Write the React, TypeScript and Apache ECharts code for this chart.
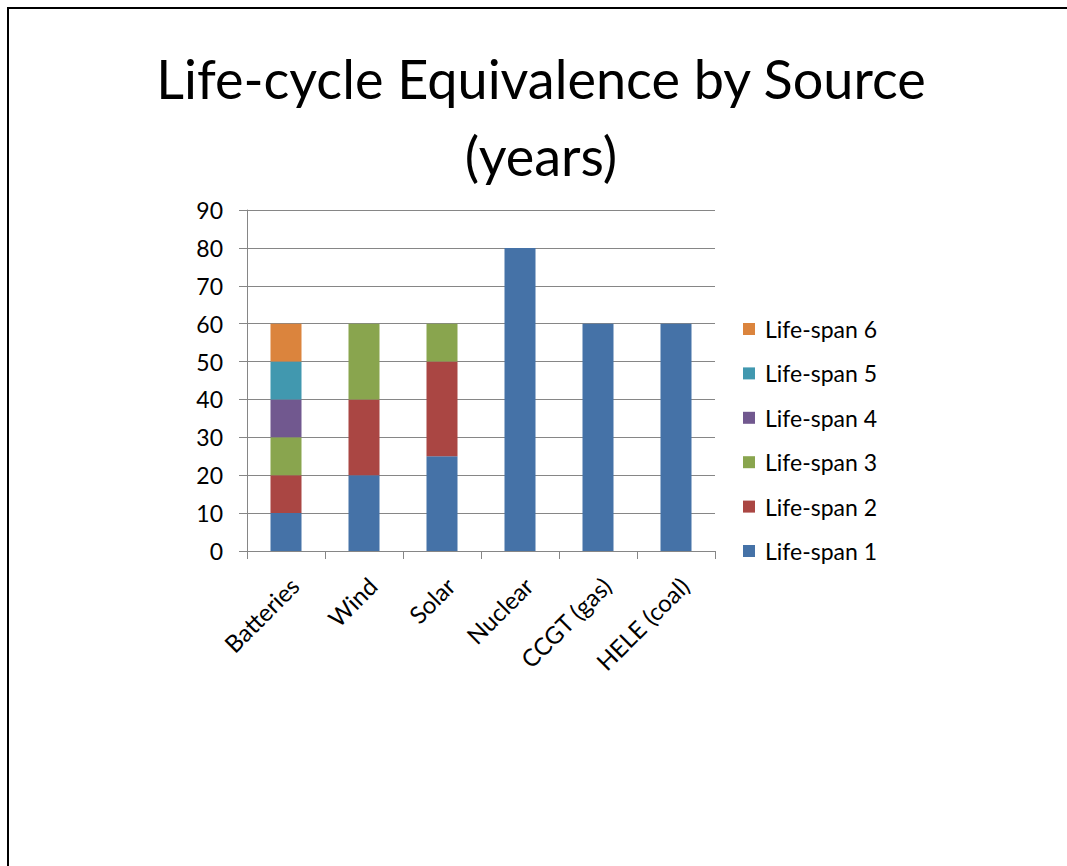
import React, { useEffect, useRef } from "react";
import * as echarts from "echarts";

const categories = ["Batteries", "Wind", "Solar", "Nuclear", "CCGT (gas)", "HELE (coal)"];
const seriesNames = ["Life-span 1", "Life-span 2", "Life-span 3", "Life-span 4", "Life-span 5", "Life-span 6"];
const lifeSpan1 = [10, 20, 25, 80, 60, 60];
const lifeSpan2 = [10, 20, 25, 0, 0, 0];
const lifeSpan3 = [10, 20, 10, 0, 0, 0];
const lifeSpan4 = [10, 0, 0, 0, 0, 0];
const lifeSpan5 = [10, 0, 0, 0, 0, 0];
const lifeSpan6 = [10, 0, 0, 0, 0, 0];
const colors = ["#4572A7", "#AA4643", "#89A54E", "#71588F", "#4198AF", "#DB843D"];
const titleText = "Life-cycle Equivalence by Source\n(years)";

const FONT = "Lato, 'Open Sans', sans-serif";

export default function App() {
  const ref = useRef<HTMLDivElement>(null);
  useEffect(() => {
    if (!ref.current) return;
    const chart = echarts.init(ref.current, undefined, { renderer: "svg" });
    const allData = [lifeSpan1, lifeSpan2, lifeSpan3, lifeSpan4, lifeSpan5, lifeSpan6];
    chart.setOption({
      animation: false,
      color: colors,
      title: {
        text: titleText,
        left: 541,
        textAlign: "center",
        top: 40,
        padding: 0,
        textStyle: {
          fontFamily: FONT,
          fontWeight: "normal",
          fontSize: 54,
          lineHeight: 77,
          color: "#000",
        },
      },
      legend: {
        orient: "vertical",
        left: 743,
        top: 317,
        padding: 0,
        itemWidth: 12,
        itemHeight: 12,
        itemGap: 20.4,
        icon: "rect",
        data: [...seriesNames].reverse(),
        textStyle: {
          fontFamily: FONT,
          fontSize: 23,
          lineHeight: 24,
          color: "#000",
          padding: [0, 0, 0, 5],
        },
      },
      grid: {
        left: 247,
        right: 352,
        top: 210,
        bottom: 315,
        containLabel: false,
      },
      xAxis: {
        type: "category",
        data: categories,
        axisLine: { lineStyle: { color: "#868686", width: 1 } },
        axisTick: { show: true, length: 8, lineStyle: { color: "#868686" } },
        axisLabel: {
          rotate: 45,
          interval: 0,
          margin: 22,
          verticalAlign: "top",
          fontFamily: FONT,
          fontSize: 24,
          color: "#000",
        },
      },
      yAxis: {
        type: "value",
        min: 0,
        max: 90,
        interval: 10,
        axisLine: { show: true, lineStyle: { color: "#868686", width: 1 } },
        axisTick: { show: true, length: 8, lineStyle: { color: "#868686" } },
        splitLine: { lineStyle: { color: "#868686", width: 1 } },
        axisLabel: {
          margin: 24,
          fontFamily: FONT,
          fontSize: 23,
          color: "#000",
        },
      },
      series: seriesNames.map((name, i) => ({
        name,
        type: "bar",
        stack: "total",
        barWidth: 31,
        data: allData[i].map((v) => (v === 0 ? null : v)),
        itemStyle: { color: colors[i] },
      })),
    });
    return () => chart.dispose();
  }, []);
  return (
    <div style={{ position: "fixed", left: 0, top: 0, width: 1067, height: 866, overflow: "hidden", background: "#fff" }}>
      <div
        style={{
          position: "absolute",
          left: 7,
          top: 7,
          width: 1080,
          height: 900,
          borderTop: "2px solid #000",
          borderLeft: "2px solid #000",
          boxSizing: "border-box",
        }}
      />
      <div ref={ref} style={{ position: "absolute", left: 0, top: 0, width: 1067, height: 866 }} />
    </div>
  );
}
